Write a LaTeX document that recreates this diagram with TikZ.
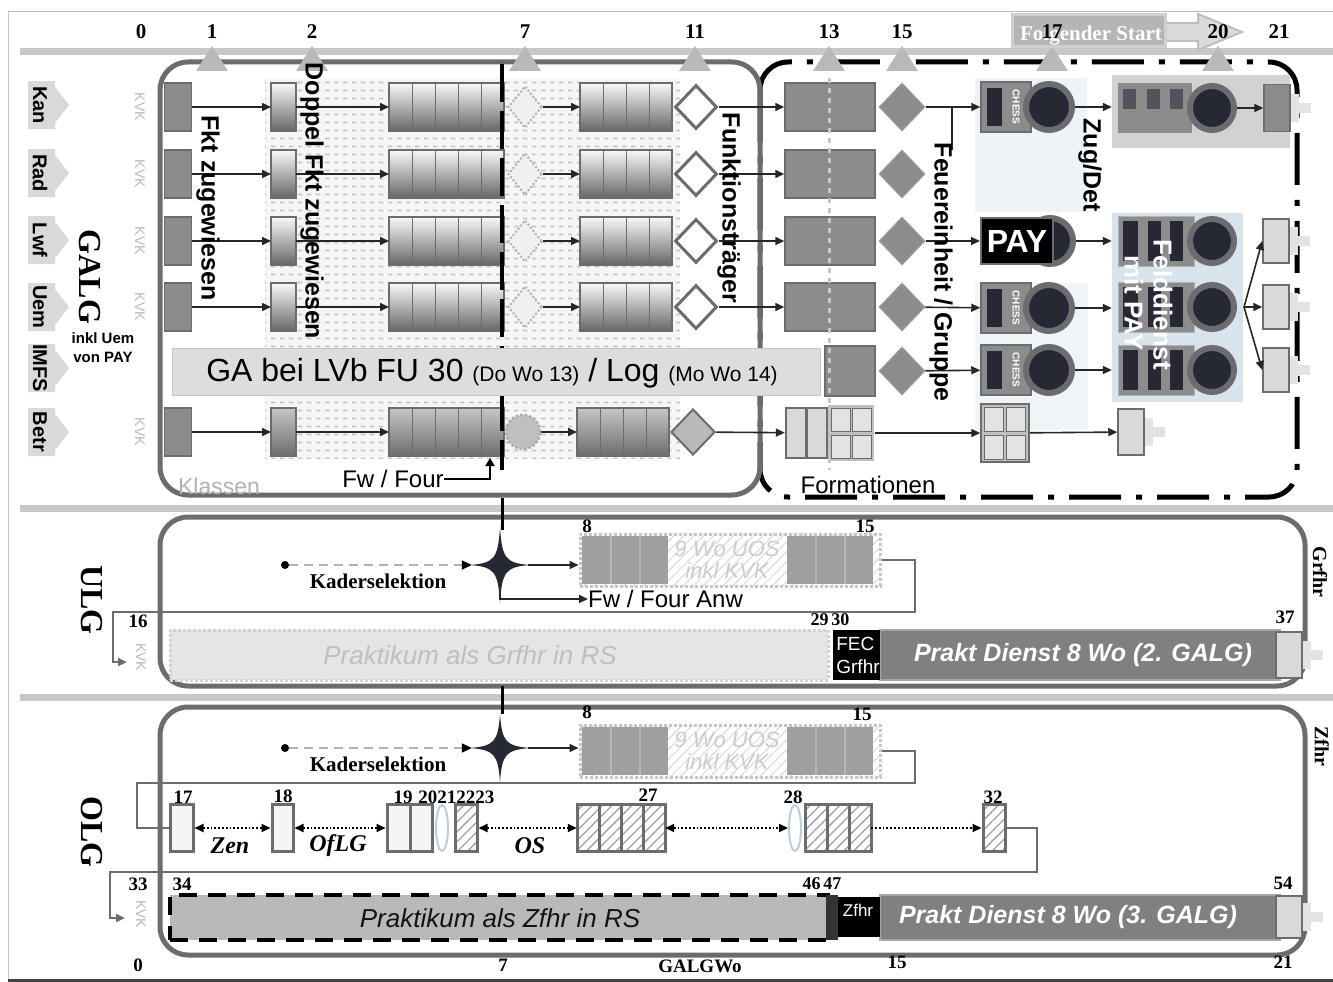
\documentclass[tikz,border=0pt]{standalone}
\usepackage{fontspec}
\setmainfont{Liberation Sans}
\newfontfamily\tms{Liberation Serif}
\usetikzlibrary{shapes.geometric,arrows.meta,patterns,patterns.meta,calc}
\pgfdeclarepatternformonly{dashdots}{\pgfpointorigin}{\pgfpoint{9pt}{8pt}}{\pgfpoint{9pt}{8pt}}{\pgfpathrectangle{\pgfpoint{1pt}{3pt}}{\pgfpoint{5pt}{2pt}}\pgfusepath{fill}}
\definecolor{bord}{RGB}{108,108,112}
\definecolor{midg}{RGB}{140,140,140}
\definecolor{band}{RGB}{200,200,202}
\definecolor{dk}{RGB}{38,40,52}
\definecolor{lblue}{RGB}{216,227,236}
\definecolor{elb}{RGB}{185,205,225}
\definecolor{bargray}{RGB}{128,128,130}
\newcommand\fs[1]{\fontsize{#1}{#1}\selectfont}
% cells: name, left x, centre y, cell width, count, style
\newcommand\gcells[6]{%
  \foreach \ci in {1,...,#5}{%
    \path[#6] ({#2+(\ci-1)*#4},{#3-24}) rectangle ++(#4,48);}%
  \node[inner sep=0, outer sep=0, draw=bord, line width=2pt, minimum width={#4*#5*1pt}, minimum height=48pt, anchor=west] (#1) at (#2,#3) {};}
\newcommand\chev[3]{%
  \fill[gray!30] (28,{#2-24}) -- (55,{#2-24}) -- (55,{#2-18}) -- (69,#2) -- (55,{#2+18}) -- (55,{#2+24}) -- (28,{#2+24}) -- cycle;
  \node[rotate=-90, font=\bfseries\fs{20}, inner sep=0] (#1) at (40,#2) {#3};}
\newcommand\chessu[2]{%
  \node[fill=midg, draw=bord, line width=1.5pt, minimum width=50pt, minimum height=50pt, inner sep=0] (#1) at (1006,#2) {};
  \fill[dk] (987,{#2-19}) rectangle (1002,{#2+19});
  \node[circle, fill=dk, draw=bord, line width=6pt, minimum size=46pt, inner sep=0] (#1c) at (1049,#2) {};
  \node[rotate=-90, text=white, font=\bfseries\fs{10}, inner sep=0] (#1t) at (1016,#2) {CHESS};}
\newcommand\fdu[2]{%
  \node[fill=midg, draw=gray!60, minimum width=76pt, minimum height=50pt, inner sep=0] (#1) at (1156,#2) {};
  \fill[dk] (1123,{#2-20}) rectangle (1138,{#2+20});
  \fill[dk] (1148,{#2-20}) rectangle (1161,{#2+20});
  \fill[dk] (1170,{#2-20}) rectangle (1183,{#2+20});
  \node[circle, fill=dk, draw=bord, line width=6pt, minimum size=44pt, inner sep=0] (#1c) at (1212,#2) {};}
\newcommand\smb[5]{%
  \fill[gray!22] ({#2+12},{#3-14}) rectangle ({#2+22},{#3+14});
  \fill[gray!22] ({#2+22},{#3-5}) rectangle ({#2+34},{#3+5});
  \node[fill=#4, draw=bord, line width=1.5pt, minimum width=26pt, minimum height=#5pt, inner sep=0] (#1) at (#2,#3) {};}
\newcommand\fourstar[4]{%
  \fill[dk] (#1,{#2-#4}) .. controls ({#1+2},{#2-6}) and ({#1+6},{#2-2}) .. ({#1+#3},#2) .. controls ({#1+6},{#2+2}) and ({#1+2},{#2+6}) .. (#1,{#2+#4}) .. controls ({#1-2},{#2+6}) and ({#1-6},{#2+2}) .. ({#1-#3},#2) .. controls ({#1-6},{#2-2}) and ({#1-2},{#2-6}) .. cycle;}
\newcommand\uosbox[2]{%
  \fill[pattern={Lines[angle=45,distance=7pt,line width=1pt]}, pattern color=gray!30] (580,{#2-26}) rectangle (880,{#2+26});
  \fill[gray!75] (582,{#2-24}) rectangle (668,{#2+24});
  \fill[gray!75] (787,{#2-24}) rectangle (873,{#2+24});
  \foreach \xc in {611,640,816,845} \draw[gray!58, line width=1.5pt] (\xc,{#2-24}) -- (\xc,{#2+24});
  \node[font=\itshape\fs{22}, text=gray!40, align=center, inner sep=0] (#1t) at (727,#2) {9 Wo UOS\\inkl KVK};
  \node[draw=gray!45, dotted, line width=3pt, minimum width=300pt, minimum height=52pt, inner sep=0] (#1) at (730,#2) {};}
\begin{document}
\begin{tikzpicture}[x=1pt,y=-1pt,
  conn/.style={draw=black!85, line width=1.6pt, -{Triangle[length=9pt,width=8pt]}},
  gconn/.style={draw=bord, line width=2.2pt},
  gtip/.style={gconn, -{Triangle[length=9pt,width=8pt]}},
  kad/.style={draw=gray!60, line width=2pt, dash pattern=on 9pt off 6pt, -{Triangle[length=10pt,width=9pt,color=black]}},
  num/.style={font=\tms\bfseries\fs{21}, inner sep=0},
  snum/.style={font=\tms\bfseries\fs{19}, inner sep=0},
  rtxt/.style={rotate=-90, font=\bfseries\fs{25}, inner sep=0},
  lane/.style={draw=bord, line width=5pt, rounded corners=28pt, inner sep=0},
  kvk/.style={rotate=-90, font=\fs{14}, text=gray!55, inner sep=0},
  gc/.style={top color=gray!5, bottom color=gray!80!black, draw=bord, line width=1pt},
  gcd/.style={top color=gray!45, bottom color=gray!85!black, draw=bord, line width=1pt},
  olb/.style={fill=gray!8, draw=bord, line width=3pt, minimum height=47pt, inner sep=0},
  ohb/.style={pattern={Lines[angle=45,distance=7pt,line width=1.3pt]}, pattern color=gray!75, draw=bord, line width=3pt, minimum height=47pt, inner sep=0},
  darr/.style={draw=black, line width=1.8pt, dotted, {Triangle[length=9pt,width=8pt]}-{Triangle[length=9pt,width=8pt]}},
  sarr/.style={draw=black, line width=1.8pt, dotted, -{Triangle[length=9pt,width=8pt]}},
  lbl/.style={font=\tms\bfseries\itshape\fs{24}, inner sep=0},
  bar/.style={text=white, font=\bfseries\itshape\fs{25}, inner sep=0}
]
\useasboundingbox (0,0) rectangle (1333,982);
% frame and bands
\draw[gray!55, line width=1pt] (8,12) -- (1333,12);
\draw[gray!45, line width=1pt] (8,12) -- (8,982);
\draw[gray!50!black, line width=3pt] (8,980) -- (1333,980);
\foreach \yy in {52,508,697} \draw[band, line width=7pt] (20,\yy) -- (1333,\yy);
% dotted region
\fill[gray!7] (265,78) rectangle (680,458);
\fill[pattern=dashdots, pattern color=gray!45] (265,78) rectangle (680,458);
% faint panels
\fill[lblue!45] (975,78) rectangle (1087,212);
\fill[lblue!40] (975,283) rectangle (1088,430);
% Formationen border
\draw[black, line width=5pt, rounded corners=28pt, dash pattern=on 52pt off 15pt on 6pt off 15pt] (760,62) rectangle (1297,497);
% lanes
\node[lane, minimum width=600pt, minimum height=433pt] (galg) at (460,278.5) {};
\node[lane, minimum width=1145pt, minimum height=169pt] (ulg) at (732.5,601.5) {};
\node[lane, minimum width=1145pt, minimum height=248pt] (olg) at (732.5,831) {};
% triangles
\foreach \xx in {212,312,525,695,829,902,1052,1218} \fill[gray!55] ({\xx-16},71) -- (\xx,46) -- ({\xx+16},71) -- cycle;
% Folgender Start
\fill[gray!28, draw=gray!50, line width=2pt] (1165,23) -- (1198,23) -- (1198,14) -- (1242,32) -- (1198,50) -- (1198,41) -- (1165,41) -- cycle;
\node[fill=gray!58, draw=gray!38, line width=3pt, minimum width=153pt, minimum height=32pt, inner sep=0] (fstart) at (1088.5,31) {};
\node[text=white, font=\tms\bfseries\fs{21}, inner sep=0] (fstxt) at (1091,36) {Folgender Start};
% top numbers
\foreach \xx/\nn in {141/0,212/1,312/2,525/7,695/11,829/13,902/15,1052/17,1218/20,1279/21} \node[num] (tn\nn) at (\xx,32) {\nn};
% left labels
\chev{lKan}{105}{Kan}
\chev{lRad}{173}{Rad}
\chev{lLwf}{240}{Lwf}
\chev{lUem}{307}{Uem}
\chev{lIMFS}{368}{IMFS}
\chev{lBetr}{432}{Betr}
\node[rotate=-90, font=\tms\bfseries\fs{32}, inner sep=0] (galgtxt) at (90,277) {GALG};
\node[font=\bfseries\fontsize{15}{19}\selectfont, align=center, inner sep=0] (inkl) at (103,348) {inkl Uem\\von PAY};
% GALG rows
\foreach \rw/\ry in {1/107,2/174,3/241,4/307}{
  \node[fill=midg, draw=bord, line width=1.5pt, minimum width=27pt, minimum height=48pt, inner sep=0] (A\rw) at (178,\ry) {};
  \gcells{B\rw}{271}{\ry}{25}{1}{gc}
  \gcells{C\rw}{389}{\ry}{23}{5}{gc}
  \node[diamond, draw=gray!60, dotted, line width=2pt, fill=gray!12, minimum width=34pt, minimum height=42pt, inner sep=0] (X\rw) at (525,\ry) {};
  \gcells{D\rw}{580}{\ry}{23}{4}{gc}
  \node[diamond, draw=bord, line width=3pt, fill=white, minimum width=42pt, minimum height=44pt, inner sep=0] (M\rw) at (696,\ry) {};
  \node[fill=midg, draw=bord, line width=1.5pt, minimum width=90pt, minimum height=48pt, inner sep=0] (E\rw) at (830,\ry) {};
  \node[diamond, fill=midg, draw=gray!75, line width=1pt, minimum width=46pt, minimum height=48pt, inner sep=0] (F\rw) at (902,\ry) {};
  \draw[conn] (A\rw) -- (B\rw);
  \draw[conn] (B\rw) -- (C\rw);
  \draw[conn] (X\rw) -- (D\rw);
  \draw[conn] (M\rw) -- (E\rw);
  \node[kvk] (K\rw) at (140,\ry) {KVK};
}
% row 6
\node[fill=midg, draw=bord, line width=1.5pt, minimum width=27pt, minimum height=48pt, inner sep=0] (A6) at (178,432) {};
\gcells{B6}{271}{432}{25}{1}{gcd}
\gcells{C6}{389}{432}{23}{5}{gcd}
\node[circle, draw=gray!65, dotted, line width=2.5pt, fill=gray!50, minimum size=34pt, inner sep=0] (X6) at (523,432) {};
\gcells{D6}{577}{432}{23}{4}{gcd}
\node[diamond, fill=gray!55, draw=bord, line width=2pt, minimum width=44pt, minimum height=46pt, inner sep=0] (M6) at (693,432) {};
\node[kvk] (K6) at (140,432) {KVK};
\fill[gray!30, draw=bord, line width=1.5pt] (786,408) rectangle (806,458);
\fill[gray!30, draw=bord, line width=1.5pt] (807,408) rectangle (827,458);
\fill[gray!50] (828,405) rectangle (874,461);
\foreach \qx/\qy in {831/408,852/408,831/435,852/435} \fill[gray!22, draw=bord, line width=1pt] (\qx,\qy) rectangle ++(19,23);
\node[inner sep=0, minimum width=90pt, minimum height=56pt] (E6) at (830,433) {};
\draw[conn] (A6) -- (B6);
\draw[conn] (B6) -- (C6);
\draw[conn] (X6) -- (D6);
\draw[conn] (M6) -- (E6);
% GA row formation box
\node[fill=midg, draw=bord, line width=1.5pt, minimum width=50pt, minimum height=50pt, inner sep=0] (E5) at (850,371) {};
\node[diamond, fill=midg, draw=gray!75, line width=1pt, minimum width=46pt, minimum height=48pt, inner sep=0] (F5) at (902,371) {};
\draw[gray!45, line width=3pt, dash pattern=on 5pt off 5pt] (829,78) -- (829,470);
% vertical phase line
\draw[black, line width=4pt, dash pattern=on 38pt off 9pt] (502,64) -- (502,470);
\draw[black, line width=3pt] (502,498) -- (502,530);
\draw[black, line width=3pt] (502,686) -- (502,714);
% GA bar
\node[fill=gray!27, draw=gray!45, line width=1pt, minimum width=648pt, minimum height=47pt, inner sep=0] (ga) at (496,372) {};
\node[inner sep=0] (gatxt) at (492,373) {\fs{32}GA bei LVb FU 30 {\fs{21}(Do Wo 13)} / Log {\fs{21}(Mo Wo 14)}};
% right side units
\chessu{chA}{107}
\node[circle, fill=dk, draw=bord, line width=6pt, minimum size=46pt, inner sep=0] (payc) at (1050,241) {};
\node[fill=black, draw=bord, line width=2pt, minimum width=72pt, minimum height=46pt, inner sep=0, text=white, font=\bfseries\fs{32}] (pay) at (1017,241) {PAY};
\chessu{chD}{308}
\chessu{chE}{370}
\draw[conn] (F1) -- (chA);
\draw[black!85, line width=1.5pt] (952,107) -- (952,150);
\draw[conn] (F3) -- (pay);
\draw[conn] (F4) -- (chD);
\draw[conn] (F5) -- (chE);
% row 1 big block
\node[fill=gray!35, minimum width=178pt, minimum height=73pt, inner sep=0] (big) at (1201,111.5) {};
\node[fill=midg, minimum width=74pt, minimum height=50pt, inner sep=0] (bigr) at (1155,108) {};
\foreach \bx in {1123,1147,1170} \fill[dk!80] (\bx,89) rectangle ++(13,20);
\node[circle, fill=dk, draw=bord, line width=6pt, minimum size=44pt, inner sep=0] (bigc) at (1212,108) {};
\smb{S1}{1277}{108}{midg}{47}
\draw[conn] (chAc) -- (chAc -| big.west);
\draw[conn] (bigc) -- (S1);
% Felddienst block
\node[fill=lblue, minimum width=131pt, minimum height=189pt, inner sep=0] (blue) at (1177.5,307.5) {};
\fdu{fdC}{241}
\fdu{fdD}{307}
\fdu{fdE}{370}
\node[rotate=-90, text=white, font=\bfseries\fs{26}, inner sep=0] (fdtxt) at (1163,305) {Felddienst};
\node[rotate=-90, text=white, font=\bfseries\fs{26}, inner sep=0] (mptxt) at (1134,303) {mit PAY};
\draw[conn] (payc) -- (blue.west |- payc);
\draw[conn] (chDc) -- (blue.west |- chDc);
\draw[conn] (chEc) -- (blue.west |- chEc);
\smb{S3}{1276}{241}{gray!30}{44}
\smb{S4}{1276}{307}{gray!30}{44}
\smb{S5}{1276}{370}{gray!30}{44}
\coordinate (fan) at (1244,307);
\draw[conn] (fan) -- (S3.west);
\draw[conn] (fan) -- (S4.west);
\draw[conn] (fan) -- (S5.west);
% row 6 right
\node[fill=gray!50, draw=bord, line width=1.5pt, minimum width=48pt, minimum height=58pt, inner sep=0] (Q6) at (1005,433) {};
\foreach \qx/\qy in {984/407,1006/407,984/435,1006/435} \fill[gray!22, draw=bord, line width=1pt] (\qx,\qy) rectangle ++(19,24);
\smb{S6}{1131}{432}{gray!30}{46}
\draw[conn] (E6) -- (Q6);
\draw[conn] (Q6) -- (S6);
% GALG texts
\node[rtxt] (fktz) at (208,208) {Fkt zugewiesen};
\node[rtxt] (dfkt) at (312,201) {Doppel Fkt zugewiesen};
\node[rtxt] (funk) at (729,208) {Funktionsträger};
\node[rtxt] (feu) at (941,272) {Feuereinheit / Gruppe};
\node[rtxt] (zug) at (1090,165) {Zug/Det};
\node[font=\fs{23}, text=gray!60, inner sep=0] (klass) at (219,486) {Klassen};
\node[font=\fs{24}, inner sep=0] (fwf) at (393,479) {Fw / Four};
\coordinate (fwtip) at (490,458);
\draw[black, line width=2.5pt, -{Triangle[length=8pt,width=9pt]}] (fwf.east) -| (fwtip);
\node[font=\fs{24}, inner sep=0] (form) at (868,485) {Formationen};
% ULG
\node[rotate=-90, font=\tms\bfseries\fs{32}, inner sep=0] (ulgtxt) at (92,600) {ULG};
\node[rotate=-90, font=\tms\bfseries\fs{20}, inner sep=0] (grf) at (1320,572) {Grfhr};
\node[circle, fill=black, inner sep=0, minimum size=8pt] (dot1) at (285,565) {};
\node[inner sep=0, minimum width=56pt, minimum height=76pt] (st1) at (500,565) {};
\uosbox{uos1}{560}
\node[snum] (u8) at (587,526) {8};
\node[snum] (u15) at (865,526) {15};
\node[font=\tms\bfseries\fs{21}, inner sep=0] (ks1) at (378,581) {Kaderselektion};
\node[font=\fs{24}, inner sep=0, anchor=west] (fwanw) at (588,599) {Fw / Four Anw};
\draw[kad] (dot1) -- (st1.west);
\draw[conn] (st1.east) -- (st1.east -| uos1.west);
\draw[conn] (st1.center) |- (fwanw.west);
\fourstar{500}{565}{30}{38}
\coordinate (k16) at (127,662);
\draw[gtip] (uos1.east) -- (915,560) -- (915,612) -- (113,612) -- (113,662) -- (k16);
\node[snum] (u16) at (138,621) {16};
\node[kvk] (Ku) at (141,657) {KVK};
\node[fill=gray!20, draw=gray!35, dotted, line width=3pt, minimum width=658pt, minimum height=50pt, inner sep=0] (pg) at (499,655) {};
\node[font=\itshape\fs{26}, text=gray!50, inner sep=0] (pgt) at (470,655) {Praktikum als Grfhr in RS};
\node[snum, font=\tms\bfseries\fs{18}] (u2930) at (830,620) {29\,30};
\node[fill=bargray, draw=gray!70, line width=1.5pt, minimum width=400pt, minimum height=50pt, inner sep=0] (pd2) at (1080,655) {};
\node[fill=black, minimum width=47pt, minimum height=50pt, inner sep=0] (fec) at (856.5,655) {};
\node[text=white, font=\fontsize{19}{23}\selectfont, align=left, inner sep=0] (fectxt) at (858,655) {FEC\\Grfhr};
\node[bar] (pd2t) at (1083,655) {Prakt Dienst 8 Wo (2. GALG)};
\smb{e37}{1289}{655}{gray!30}{46}
\node[snum] (u37) at (1285,617) {37};
% OLG
\node[rotate=-90, font=\tms\bfseries\fs{32}, inner sep=0] (olgtxt) at (92,832) {OLG};
\node[rotate=-90, font=\tms\bfseries\fs{20}, inner sep=0] (zfh) at (1322,746) {Zfhr};
\node[circle, fill=black, inner sep=0, minimum size=8pt] (dot2) at (285,748) {};
\node[inner sep=0, minimum width=56pt, minimum height=66pt] (st2) at (500,748) {};
\uosbox{uos2}{751}
\node[snum] (o8) at (587,712) {8};
\node[snum] (o15) at (862,714) {15};
\node[font=\tms\bfseries\fs{21}, inner sep=0] (ks2) at (378,764) {Kaderselektion};
\draw[kad] (dot2) -- (st2.west);
\draw[conn] (st2.east) -- (st2.east -| uos2.west);
\fourstar{500}{748}{30}{34}
% OLG course boxes
\node[olb, minimum width=23pt] (o17) at (181.5,828) {};
\node[olb, minimum width=21pt] (o18) at (282.5,828) {};
\node[olb, minimum width=23pt] (o19) at (398.5,828) {};
\node[olb, minimum width=22pt] (o20) at (421,828) {};
\node[ellipse, draw=elb, line width=2pt, minimum width=12pt, minimum height=46pt, inner sep=0] (e21) at (442,828) {};
\node[ohb, minimum width=22pt] (o22) at (466,828) {};
\foreach \ci in {0,...,3} \node[ohb, minimum width=22pt] (o27\ci) at ({588+22*\ci},828) {};
\node[inner sep=0, minimum width=88pt, minimum height=47pt] (o27) at (621,828) {};
\node[ellipse, draw=elb, line width=2pt, minimum width=12pt, minimum height=46pt, inner sep=0] (e28) at (795,828) {};
\foreach \ci in {0,...,2} \node[ohb, minimum width=22pt] (o28\ci) at ({816+22*\ci},828) {};
\node[inner sep=0, minimum width=66pt, minimum height=47pt] (o28) at (838,828) {};
\node[ohb, minimum width=22pt] (o32) at (994,828) {};
\draw[darr] (o17) -- (o18);
\draw[darr] (o18) -- (o19);
\draw[darr] (o22) -- (o27);
\draw[darr] (o27) -- (e28);
\draw[sarr] (o28) -- (o32);
\node[lbl] (zen) at (230,846) {Zen};
\node[lbl] (oflg) at (338,846) {OfLG};
\node[lbl] (os) at (530,846) {OS};
\node[snum] (n17) at (183,797) {17};
\node[snum] (n18) at (283,796) {18};
\node[snum] (n19) at (444,797) {19\hspace{6pt}20212223};
\node[snum] (n27) at (648,795) {27};
\node[snum] (n28) at (793,797) {28};
\node[snum] (n32) at (993,797) {32};
\draw[gconn] (uos2.east) -- (915,751) -- (915,783) -- (137,783) -- (137,828) -- (o17.west);
\coordinate (k33) at (125,918);
\draw[gtip] (o32.east) -- (1037,828) -- (1037,872) -- (110,872) -- (110,918) -- (k33);
\node[snum] (n33) at (138,884) {33};
\node[snum] (n34) at (182,884) {34};
\node[kvk] (Ko) at (141,914) {KVK};
\node[fill=gray!55, draw=black, dash pattern=on 18pt off 11pt, line width=4pt, minimum width=658pt, minimum height=45pt, inner sep=0] (pz) at (499,917.5) {};
\node[font=\itshape\fs{26}, text=gray!15!black, inner sep=0] (pzt) at (500,918) {Praktikum als Zfhr in RS};
\node[snum, font=\tms\bfseries\fs{18}] (n4647) at (822,884) {46\,47};
\node[fill=bargray, draw=gray!70, line width=1.5pt, minimum width=400pt, minimum height=45pt, inner sep=0] (pd3) at (1080,917.5) {};
\fill[gray!40!black] (826,895) rectangle (838,940);
\node[fill=black, minimum width=42pt, minimum height=40pt, inner sep=0] (zf) at (859,917) {};
\node[text=white, font=\fs{17}, inner sep=0] (zftxt) at (858,910) {Zfhr};
\node[bar] (pd3t) at (1068,917) {Prakt Dienst 8 Wo (3. GALG)};
\smb{e54}{1289}{917}{gray!30}{42}
\node[snum] (n54) at (1283,883) {54};
% bottom scale
\node[snum] (b0) at (138,965) {0};
\node[snum] (b7) at (503,965) {7};
\node[snum] (bw) at (700,966) {GALGWo};
\node[snum] (b15) at (897,962) {15};
\node[snum] (b21) at (1283,962) {21};
\end{tikzpicture}
\end{document}
